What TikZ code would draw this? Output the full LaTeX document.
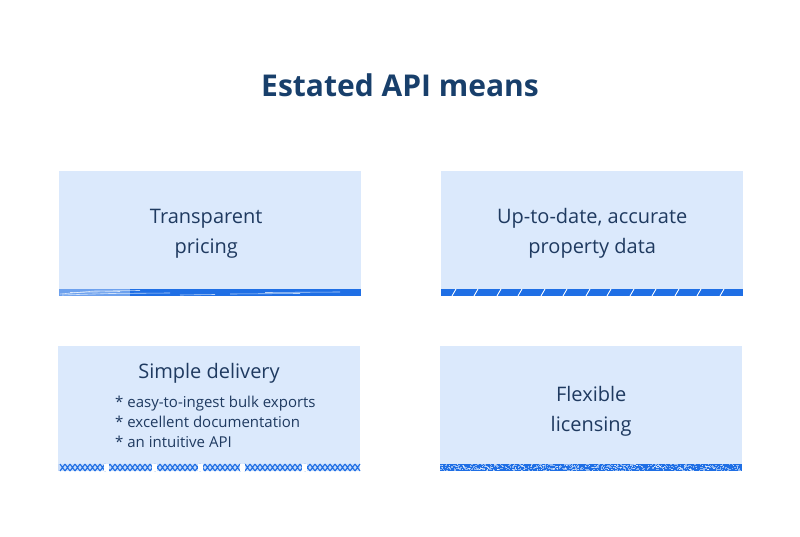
\documentclass[tikz,border=0pt]{standalone}
\usepackage{fontspec}
\setmainfont{Open Sans}
\usepackage{tikz}
\definecolor{boxfill}{HTML}{DBE9FC}
\definecolor{stripeblue}{HTML}{1F6FE5}
\definecolor{inktext}{HTML}{1F3A60}
\definecolor{titleblue}{HTML}{183F6B}
\tikzset{card/.style=
   {fill=boxfill, minimum width=302pt, minimum height=118pt, inner sep=0pt, anchor=north west},
   cardtext/.style={text=inktext, font=\fontsize{20}{30}\selectfont, align=center},
   listtext/.style={text=inktext, font=\fontsize{15}{20}\selectfont, align=left, inner sep=0pt},
   streak/.style={white, line width=0.6pt, opacity=0.7}}

\begin{document}
\begin{tikzpicture}[x=1pt, y=-1pt]
\useasboundingbox (0,0) rectangle (800,537);

\node[font=\bfseries\fontsize{30}{36}\selectfont, text=titleblue, anchor=base] (title) at (400,97) {Estated API means};

\node[card] (transparent) at (59,171) {};
\node[card] (uptodate) at (441,171) {};
\node[card] (delivery) at (58,346) {};
\node[card] (licensing) at (440,346) {};

\fill[stripeblue] (transparent.south west) rectangle ([yshift=-7pt]transparent.south east);
\fill[stripeblue] (uptodate.south west) rectangle ([yshift=-7pt]uptodate.south east);
\fill[stripeblue!25] (delivery.south west) rectangle ([yshift=-7pt]delivery.south east);
\fill[stripeblue] (licensing.south west) rectangle ([yshift=-7pt]licensing.south east);

\fill[white, opacity=0.35] (59,289) rectangle (130,296);
\draw[streak] (60,294)--(95,291)--(140,290.5);
\draw[streak] (70,292.5)--(120,291.5);
\draw[streak] (62,295)--(110,293.5)--(170,293);
\draw[streak] (230,294)--(300,293.5);
\draw[streak] (265,292.5)--(340,292);
\draw[streak] (180,295)--(215,294.5);
\foreach \x in {452,474,497,518,541,563,586,607,630,652,675,697,720}
   \draw[white, line width=0.9pt] (\x,296)--(\x+4,289);
\foreach \x in {60,65,...,355}
   \draw[stripeblue, line width=1.1pt] (\x,464)--(\x+5,471) (\x,471)--(\x+5,464);
\foreach \x in {104,152,198,240,302}
   \fill[white] (\x,464) rectangle ++(5,7);
\pgfmathsetseed{7}
\foreach \i in {1,...,700}{
   \pgfmathsetmacro\rx{440+300*rnd}
   \pgfmathsetmacro\ry{464+6*rnd}
   \fill[white, opacity=0.5] (\rx,\ry) rectangle ++(1.3,1);
}

\node[cardtext] (transparenttxt) at ([xshift=-4pt, yshift=-4pt]transparent.center) {Transparent\\pricing};
\node[cardtext] (uptodatetxt) at ([yshift=-3pt]uptodate.center) {Up-to-date, accurate\\property data};
\node[cardtext, anchor=base] (deliveryhead) at (209,378) {Simple delivery};
\node[listtext, anchor=west] (deliverylist) at (115,422) {* easy-to-ingest bulk exports\\* excellent documentation\\* an intuitive API};
\node[cardtext] (licensingtxt) at ([yshift=-6pt]licensing.center) {Flexible\\licensing};
\end{tikzpicture}
\end{document}
